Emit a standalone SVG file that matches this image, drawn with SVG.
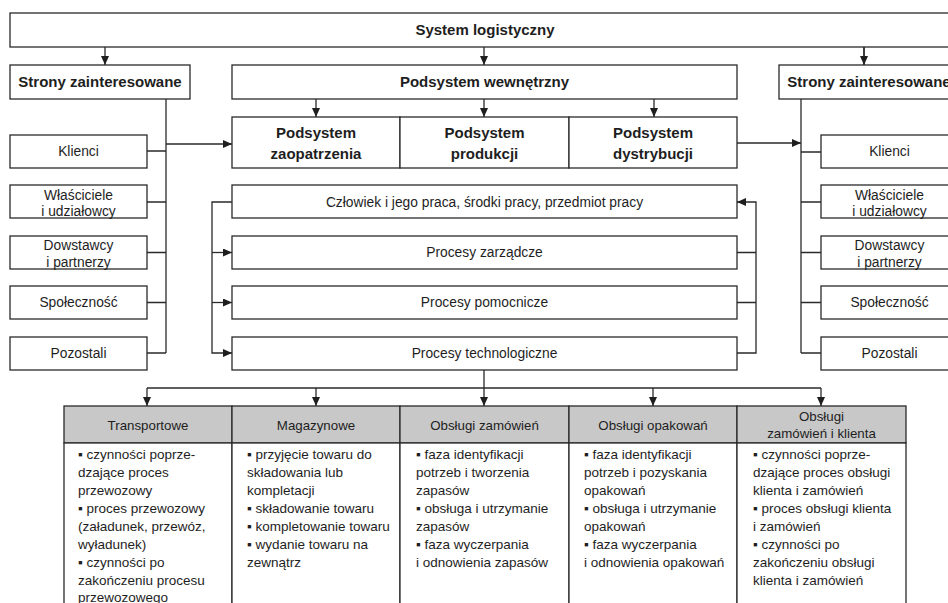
<svg xmlns="http://www.w3.org/2000/svg" width="948" height="603" viewBox="0 0 948 603">
<style>
.box{fill:#fff;stroke:#2a2a2a;stroke-width:1.3}
.hdr{fill:#c8c8c8;stroke:#2a2a2a;stroke-width:1.3}
.ln{fill:none;stroke:#2a2a2a;stroke-width:1.3}
.ar{fill:none;stroke:#2a2a2a;stroke-width:1.3;marker-end:url(#ah)}
text{font-family:"Liberation Sans",Arial,sans-serif;fill:#1e1e1e}
.b{font-size:15px;font-weight:bold;text-anchor:middle}
.r{font-size:13.8px;text-anchor:middle}
.h{font-size:13.3px;text-anchor:middle}
.t{font-size:13.5px}
</style>
<defs>
<marker id="ah" markerUnits="userSpaceOnUse" markerWidth="10" markerHeight="10" refX="9" refY="4" orient="auto">
<path d="M0,0 L9,4 L0,8 z" fill="#1e1e1e"/>
</marker>
</defs>
<rect width="948" height="603" fill="#fff"/>

<g id="connectors">
<line class="ar" x1="105" y1="47" x2="105" y2="65"/>
<line class="ar" x1="484" y1="47" x2="484" y2="65"/>
<line class="ar" x1="864" y1="47" x2="864" y2="65" style="stroke-width:1.8"/>
<line class="ar" x1="316" y1="99" x2="316" y2="117"/>
<line class="ar" x1="484" y1="99" x2="484" y2="117"/>
<line class="ar" x1="654" y1="99" x2="654" y2="117"/>
<line class="ln" x1="166" y1="99" x2="166" y2="353"/>
<path class="ln" d="M147,151H166M147,202H166M147,252.5H166M147,302.5H166M147,353H166"/>
<line class="ar" x1="166" y1="144" x2="232" y2="144"/>
<line class="ar" x1="737" y1="143" x2="801" y2="143"/>
<line class="ln" x1="801" y1="99" x2="801" y2="353"/>
<path class="ln" d="M801,152H821M801,202H821M801,252.5H821M801,302.5H821M801,353H821"/>
<path class="ar" d="M232,202H212V353H232"/>
<line class="ar" x1="212" y1="252.5" x2="232" y2="252.5"/>
<line class="ar" x1="212" y1="302.5" x2="232" y2="302.5"/>
<path class="ar" d="M737,353H756V202H737"/>
<path class="ln" d="M737,252.5H756M737,302.5H756"/>
<line class="ar" x1="484" y1="370" x2="484" y2="406"/>
<line class="ln" x1="147" y1="388" x2="821" y2="388"/>
<line class="ar" x1="147" y1="388" x2="147" y2="406"/>
<line class="ar" x1="316" y1="388" x2="316" y2="406"/>
<line class="ar" x1="653" y1="388" x2="653" y2="406"/>
<line class="ar" x1="821" y1="388" x2="821" y2="406"/>
</g>

<g id="system-logistyczny">
<rect class="box" x="10" y="13" width="949" height="34"/>
<text class="b" x="485" y="35">System logistyczny</text>
</g>
<g id="strony-lewe">
<rect class="box" x="10" y="65" width="180" height="34"/>
<text class="b" x="100" y="87">Strony zainteresowane</text>
</g>
<g id="podsystem-wewnetrzny">
<rect class="box" x="232" y="65" width="505" height="34"/>
<text class="b" x="484.5" y="87">Podsystem wewnętrzny</text>
</g>
<g id="strony-prawe">
<rect class="box" x="779" y="65" width="180" height="34"/>
<text class="b" x="869" y="87">Strony zainteresowane</text>
</g>

<g id="podsystem-zaopatrzenia">
<rect class="box" x="232" y="117" width="168" height="51"/>
<text class="b" x="316" y="138">Podsystem</text>
<text class="b" x="316" y="159">zaopatrzenia</text>
</g>
<g id="podsystem-produkcji">
<rect class="box" x="400" y="117" width="169" height="51"/>
<text class="b" x="484.5" y="138">Podsystem</text>
<text class="b" x="484.5" y="159">produkcji</text>
</g>
<g id="podsystem-dystrybucji">
<rect class="box" x="569" y="117" width="168" height="51"/>
<text class="b" x="653" y="138">Podsystem</text>
<text class="b" x="653" y="159">dystrybucji</text>
</g>

<g id="lewe-klienci"><rect class="box" x="10" y="135" width="137" height="33"/><text class="r" x="78.5" y="156">Klienci</text></g>
<g id="lewe-wlasciciele"><rect class="box" x="10" y="185" width="137" height="33"/><text class="r" x="78.5" y="200">Właściciele</text><text class="r" x="78.5" y="216">i udziałowcy</text></g>
<g id="lewe-dostawcy"><rect class="box" x="10" y="236" width="137" height="33"/><text class="r" x="78.5" y="250">Dowstawcy</text><text class="r" x="78.5" y="266.5">i partnerzy</text></g>
<g id="lewe-spolecznosc"><rect class="box" x="10" y="286" width="137" height="33"/><text class="r" x="78.5" y="307">Społeczność</text></g>
<g id="lewe-pozostali"><rect class="box" x="10" y="337" width="137" height="33"/><text class="r" x="78.5" y="358">Pozostali</text></g>

<g id="prawe-klienci"><rect class="box" x="821" y="135" width="137" height="33"/><text class="r" x="889.5" y="156">Klienci</text></g>
<g id="prawe-wlasciciele"><rect class="box" x="821" y="185" width="137" height="33"/><text class="r" x="889.5" y="200">Właściciele</text><text class="r" x="889.5" y="216">i udziałowcy</text></g>
<g id="prawe-dostawcy"><rect class="box" x="821" y="236" width="137" height="33"/><text class="r" x="889.5" y="250">Dowstawcy</text><text class="r" x="889.5" y="266.5">i partnerzy</text></g>
<g id="prawe-spolecznosc"><rect class="box" x="821" y="286" width="137" height="33"/><text class="r" x="889.5" y="307">Społeczność</text></g>
<g id="prawe-pozostali"><rect class="box" x="821" y="337" width="137" height="33"/><text class="r" x="889.5" y="358">Pozostali</text></g>

<g id="czlowiek"><rect class="box" x="232" y="185" width="505" height="33"/><text class="r" x="484.5" y="206.5">Człowiek i jego praca, środki pracy, przedmiot pracy</text></g>
<g id="procesy-zarzadcze"><rect class="box" x="232" y="236" width="505" height="33"/><text class="r" x="484.5" y="257">Procesy zarządcze</text></g>
<g id="procesy-pomocnicze"><rect class="box" x="232" y="286" width="505" height="33"/><text class="r" x="484.5" y="307">Procesy pomocnicze</text></g>
<g id="procesy-technologiczne"><rect class="box" x="232" y="337" width="505" height="33"/><text class="r" x="484.5" y="358">Procesy technologiczne</text></g>

<g id="transportowe">
<rect class="hdr" x="64" y="406" width="168" height="37"/>
<rect class="box" x="64" y="443" width="168" height="170"/>
<text class="h" x="148" y="429.5">Transportowe</text>
<text class="t"><tspan x="78" y="459">▪ czynności poprze-</tspan><tspan x="78" y="477">dzające proces</tspan><tspan x="78" y="495">przewozowy</tspan><tspan x="78" y="513">▪ proces przewozowy</tspan><tspan x="78" y="531">(załadunek, przewóz,</tspan><tspan x="78" y="549">wyładunek)</tspan><tspan x="78" y="567">▪ czynności po</tspan><tspan x="78" y="585">zakończeniu procesu</tspan><tspan x="78" y="602">przewozowego</tspan></text>
</g>
<g id="magazynowe">
<rect class="hdr" x="232" y="406" width="168" height="37"/>
<rect class="box" x="232" y="443" width="168" height="170"/>
<text class="h" x="316" y="429.5">Magazynowe</text>
<text class="t"><tspan x="247" y="459">▪ przyjęcie towaru do</tspan><tspan x="247" y="477">składowania lub</tspan><tspan x="247" y="495">kompletacji</tspan><tspan x="247" y="513">▪ składowanie towaru</tspan><tspan x="247" y="531">▪ kompletowanie towaru</tspan><tspan x="247" y="549">▪ wydanie towaru na</tspan><tspan x="247" y="567">zewnątrz</tspan></text>
</g>
<g id="obslugi-zamowien">
<rect class="hdr" x="400" y="406" width="169" height="37"/>
<rect class="box" x="400" y="443" width="169" height="170"/>
<text class="h" x="484.5" y="429.5">Obsługi zamówień</text>
<text class="t"><tspan x="416" y="459">▪ faza identyfikacji</tspan><tspan x="416" y="477">potrzeb i tworzenia</tspan><tspan x="416" y="495">zapasów</tspan><tspan x="416" y="513">▪ obsługa i utrzymanie</tspan><tspan x="416" y="531">zapasów</tspan><tspan x="416" y="549">▪ faza wyczerpania</tspan><tspan x="416" y="567">i odnowienia zapasów</tspan></text>
</g>
<g id="obslugi-opakowan">
<rect class="hdr" x="569" y="406" width="168" height="37"/>
<rect class="box" x="569" y="443" width="168" height="170"/>
<text class="h" x="653" y="429.5">Obsługi opakowań</text>
<text class="t"><tspan x="584" y="459">▪ faza identyfikacji</tspan><tspan x="584" y="477">potrzeb i pozyskania</tspan><tspan x="584" y="495">opakowań</tspan><tspan x="584" y="513">▪ obsługa i utrzymanie</tspan><tspan x="584" y="531">opakowań</tspan><tspan x="584" y="549">▪ faza wyczerpania</tspan><tspan x="584" y="567">i odnowienia opakowań</tspan></text>
</g>
<g id="obslugi-zamowien-klienta">
<rect class="hdr" x="737" y="406" width="169" height="37"/>
<rect class="box" x="737" y="443" width="169" height="170"/>
<text class="h" x="821.5" y="421">Obsługi</text>
<text class="h" x="821.5" y="437.5">zamówień i klienta</text>
<text class="t"><tspan x="753" y="459">▪ czynności poprze-</tspan><tspan x="753" y="477">dzające proces obsługi</tspan><tspan x="753" y="495">klienta i zamówień</tspan><tspan x="753" y="513">▪ proces obsługi klienta</tspan><tspan x="753" y="531">i zamówień</tspan><tspan x="753" y="549">▪ czynności po</tspan><tspan x="753" y="567">zakończeniu obsługi</tspan><tspan x="753" y="585">klienta i zamówień</tspan></text>
</g>
</svg>
